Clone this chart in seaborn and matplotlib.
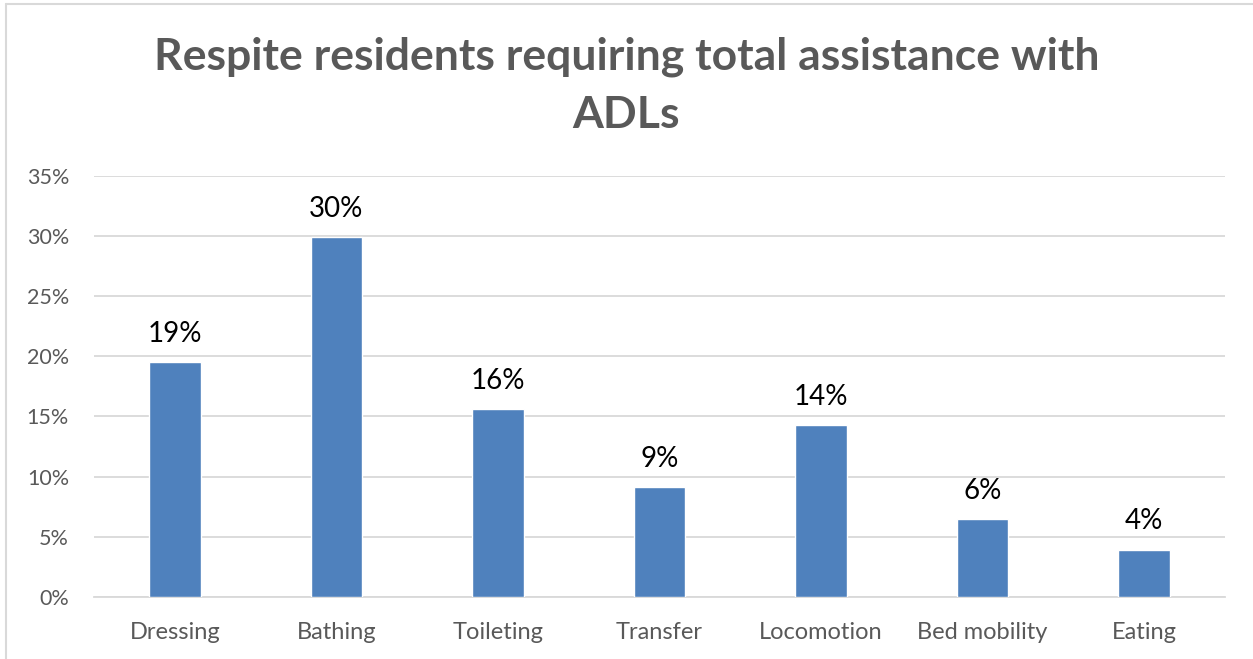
import matplotlib
matplotlib.use("Agg")
import matplotlib.pyplot as plt
from matplotlib.lines import Line2D
from matplotlib.ticker import PercentFormatter
import seaborn as sns
import pandas as pd

# ADL categories and share of respite residents needing total assistance
categories = ["Dressing", "Bathing", "Toileting", "Transfer", "Locomotion", "Bed mobility", "Eating"]
shares = [0.1949, 0.299, 0.156, 0.091, 0.143, 0.0649, 0.0393]
y_ticks = [0.0, 0.05, 0.10, 0.15, 0.20, 0.25, 0.30, 0.35]
title = "Respite residents requiring total assistance with\nADLs"

df = pd.DataFrame({"category": categories, "share": shares})

sns.set_theme(style="white")
plt.rcParams["font.family"] = ["Lato", "DejaVu Sans"]

fig = plt.figure(figsize=(12.53, 6.59), dpi=100)
ax = fig.add_axes([94 / 1253, 1 - 597 / 659, (1225 - 94) / 1253, (597 - 175.5) / 659])

sns.barplot(data=df, x="category", y="share", color="#4F81BD", width=0.32,
            saturation=1, ax=ax, zorder=3)

ax.set_ylim(0, 0.35)
ax.set_xlim(-0.5, len(categories) - 0.5)
ax.set_yticks(y_ticks)
ax.yaxis.set_major_formatter(PercentFormatter(1.0, decimals=0))
ax.yaxis.grid(True, color="#D9D9D9", linewidth=1.3, zorder=0)
ax.set_axisbelow(True)
for side in ["top", "right", "left"]:
    ax.spines[side].set_visible(False)
ax.spines["bottom"].set_color("#D9D9D9")
ax.spines["bottom"].set_linewidth(1.3)
ax.tick_params(axis="both", length=0, colors="#595959")
ax.tick_params(axis="y", labelsize=15.5, pad=18)
ax.tick_params(axis="x", labelsize=17, pad=18)
ax.set_xlabel("")
ax.set_ylabel("")

# value labels above each bar
for i, v in enumerate(shares):
    ax.annotate(f"{v:.0%}", (i, v), xytext=(0, 11), textcoords="offset points",
                ha="center", va="bottom", fontsize=20, color="black")

fig.text(0.5, 1 - 86 / 659, title, ha="center", va="center", fontsize=32,
         fontweight="bold", color="#595959", linespacing=1.55)

# chart-area border on the top and left edges
fig.add_artist(Line2D([5.5 / 1253, 1.0], [1 - 3.5 / 659, 1 - 3.5 / 659],
                      transform=fig.transFigure, color="#D9D9D9", linewidth=1.5))
fig.add_artist(Line2D([5.5 / 1253, 5.5 / 1253], [0.0, 1 - 3.5 / 659],
                      transform=fig.transFigure, color="#D9D9D9", linewidth=1.5))

fig.savefig("out.png", dpi=100, facecolor="white")
